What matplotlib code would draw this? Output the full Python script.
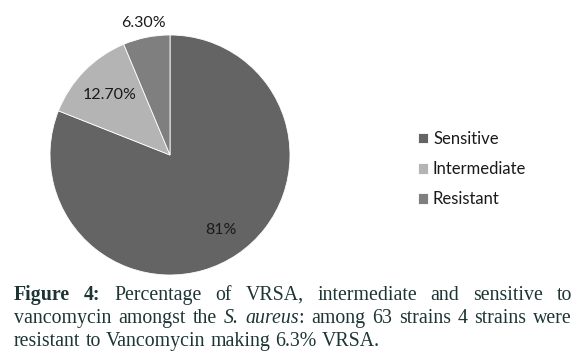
import matplotlib
matplotlib.use("Agg")
import matplotlib.pyplot as plt
import numpy as np

categories = ["Sensitive", "Intermediate", "Resistant"]
values = [81.0, 12.7, 6.3]
value_labels = ["81%", "12.70%", "6.30%"]
colors = ["#646464", "#b4b4b4", "#7f7f7f"]
label_dist = [0.76, 0.71, 1.12]

caption_lines = [
    [[("Figure", "bold")], [("4:", "bold")], [("Percentage", "normal")], [("of", "normal")],
     [("VRSA,", "normal")], [("intermediate", "normal")], [("and", "normal")],
     [("sensitive", "normal")], [("to", "normal")]],
    [[("vancomycin", "normal")], [("amongst", "normal")], [("the", "normal")],
     [("S.", "italic")], [("aureus", "italic"), (":", "normal")], [("among", "normal")],
     [("63", "normal")], [("strains", "normal")], [("4", "normal")], [("strains", "normal")],
     [("were", "normal")]],
    [[("resistant", "normal")], [("to", "normal")], [("Vancomycin", "normal")],
     [("making", "normal")], [("6.3%", "normal")], [("VRSA.", "normal")]],
]
justify = [True, True, False]

W, H = 586, 361
fig = plt.figure(figsize=(W / 100, H / 100), dpi=100)
fig.patch.set_facecolor("white")

cx, cy, r = 170, 155, 120
ax = fig.add_axes([(cx - r) / W, (H - cy - r) / H, 2 * r / W, 2 * r / H])
wedges, _ = ax.pie(values, colors=colors, startangle=90, counterclock=False,
                   radius=1, wedgeprops=dict(linewidth=0.6, edgecolor="white"))
ax.set_xlim(-1, 1)
ax.set_ylim(-1, 1)
for w, lab, d in zip(wedges, value_labels, label_dist):
    ang = np.deg2rad((w.theta1 + w.theta2) / 2)
    ax.text(d * np.cos(ang), d * np.sin(ang), lab, ha="center", va="center",
            fontsize=11.5, family="Lato", color="#1a1a1a")

leg = fig.legend(wedges, categories, loc="upper left",
                 bbox_to_anchor=(403 / W, 1 - 116 / H), frameon=False,
                 handlelength=0.6, handleheight=0.6, handletextpad=0.3,
                 labelspacing=0.85, prop=dict(family="Lato", size=12))
for t in leg.get_texts():
    t.set_color("#1a1a1a")

# caption, justified
renderer = fig.canvas.get_renderer()
fs = 14.3
cap_color = "#1e3535"
x_left, x_right = 14, 572
baselines = [300, 323, 346]

def seg_width(txt, style):
    kw = dict(family="Liberation Serif", fontsize=fs)
    if style == "bold":
        kw["weight"] = "bold"
    elif style == "italic":
        kw["style"] = "italic"
    t = fig.text(0, 0, txt, **kw)
    bb = t.get_window_extent(renderer)
    t.remove()
    return bb.width, kw

space_w, _ = seg_width("a a", "normal")
aa, _ = seg_width("aa", "normal")
space_w = space_w - aa

for line, just, yb in zip(caption_lines, justify, baselines):
    word_ws = []
    for word in line:
        word_ws.append(sum(seg_width(s, st)[0] for s, st in word))
    total = sum(word_ws)
    if just:
        gap = (x_right - x_left - total) / (len(line) - 1)
    else:
        gap = space_w
    x = x_left
    for word, ww in zip(line, word_ws):
        xx = x
        for s, st in word:
            w_, kw = seg_width(s, st)
            fig.text(xx / W, 1 - yb / H, s, ha="left", va="baseline",
                     color=cap_color, **kw)
            xx += w_
        x += ww + gap

fig.savefig("out.png", dpi=100, facecolor="white")
